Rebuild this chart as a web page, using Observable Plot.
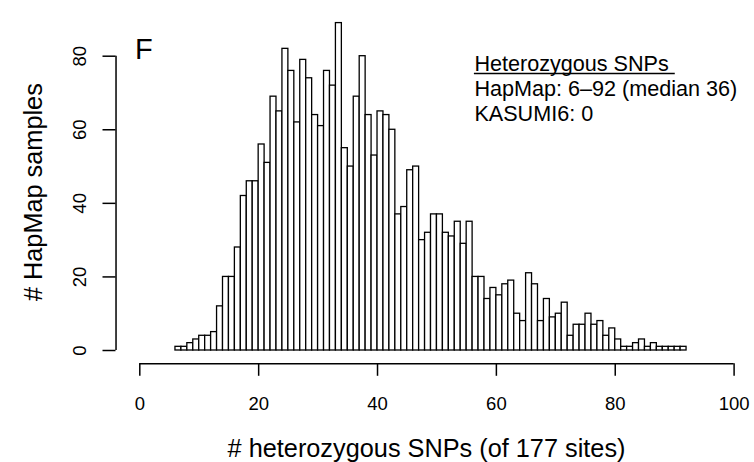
<!DOCTYPE html>
<html>
<head>
<meta charset="utf-8">
<script src="https://cdn.jsdelivr.net/npm/d3@7"></script>
<script src="https://cdn.jsdelivr.net/npm/@observablehq/plot@0.6"></script>
<style>
  html, body { margin: 0; padding: 0; background: #fff; }
  #chart { width: 754px; height: 462px; }
</style>
</head>
<body>
<div id="chart"></div>
<script>
// Histogram bins (left edge of each 1-wide bin) and their counts
const binStarts = [6,7,8,9,10,11,12,13,14,15,16,17,18,19,20,21,22,23,24,25,26,27,28,29,30,
  31,32,33,34,35,36,37,38,39,40,41,42,43,44,45,46,47,48,49,50,51,52,53,54,55,56,57,58,59,60,
  61,62,63,64,65,66,67,68,69,70,71,72,73,74,75,76,77,78,79,80,81,82,83,84,85,86,87,88,89,90,91];
const counts = [1,1,2,3,4,4,5,12,20,20,28,42,46,46,56,51,69,65,82,76,62,79,74,64,61,
  76,72,89,55,50,69,80,64,53,65,64,60,37,39,49,50,30,32,37,37,32,31,35,29,35,20,20,14,17,15,
  18,19,10,8,21,18,8,14,9,10,13,4,7,7,10,7,8,4,6,3,1,1,2,3,1,2,1,1,1,1,1];
const binWidth = 1;

const xTicks = [0, 20, 40, 60, 80, 100];
const yTicks = [0, 20, 40, 60, 80];

const xTitle = "# heterozygous SNPs (of 177 sites)";
const yTitle = "# HapMap samples";
const panelLetter = "F";
const legendTitle = "Heterozygous SNPs";
const legendLines = ["HapMap: 6\u201392 (median 36)", "KASUMI6: 0"];

const bars = binStarts.map((b, i) => ({x1: b, x2: b + binWidth, count: counts[i]}));

const font = "'Liberation Sans', Arial, Helvetica, sans-serif";
const W = 754, H = 462;

// R-style axis positions (usr limits a little outside the data range)
const xAxisAt = -4;     // y axis drawn at x = -4
const yAxisAt = -3.6;   // x axis drawn at y = -3.6

// legend placement in data coordinates
const legX = 56.3, legX2 = 90.1;
const legY = [76.1, 69.1, 62.5];
const legRule = 75.3;

const chart = Plot.plot({
  width: W,
  height: H,
  marginLeft: 115.5,
  marginRight: 17.5,
  marginTop: 20,
  marginBottom: 98.7,
  style: {fontFamily: font, color: "black", background: "white", overflow: "visible"},
  x: {domain: [0, 100], range: [139.3, 733.6]},
  y: {domain: [0, 80], range: [350, 55.7]},
  marks: [
    Plot.rect(bars, {x1: "x1", x2: "x2", y1: 0, y2: "count", fill: "white", stroke: "black", strokeWidth: 1.3}),
    // axis lines spanning first..last tick, like R
    Plot.ruleY([yAxisAt], {x1: xTicks[0], x2: xTicks[xTicks.length - 1], stroke: "black", strokeWidth: 1.5}),
    Plot.ruleX([xAxisAt], {y1: yTicks[0], y2: yTicks[yTicks.length - 1], stroke: "black", strokeWidth: 1.5}),
    Plot.axisX({ticks: xTicks, tickSize: 12.5, tickPadding: 20.5, fontSize: 18.5, label: null, strokeWidth: 1.5, tickFormat: d => String(d)}),
    Plot.axisY({ticks: yTicks, tickSize: 13, tickPadding: 16.8, tickRotate: -90, fontSize: 18.5, label: null, strokeWidth: 1.5, tickFormat: d => String(d)}),
    // axis titles
    Plot.text([xTitle], {frameAnchor: "bottom", dy: 93, lineAnchor: "bottom", textAnchor: "middle", fontSize: 25.3, fill: "black"}),
    Plot.text([yTitle], {frameAnchor: "left", dx: -73.8, rotate: -90, lineAnchor: "bottom", textAnchor: "middle", fontSize: 25.3, fill: "black"}),
    // panel letter
    Plot.text([panelLetter], {frameAnchor: "top-left", dx: 19, dy: 38, lineAnchor: "bottom", textAnchor: "start", fontSize: 29, fill: "black"}),
    // legend
    Plot.text([legendTitle, ...legendLines], {x: legX, y: (d, i) => legY[i], textAnchor: "start", lineAnchor: "bottom", fontSize: 21.6, fill: "black"}),
    Plot.ruleY([legRule], {x1: legX, x2: legX2, stroke: "black", strokeWidth: 1.3})
  ]
});

document.getElementById("chart").appendChild(chart);
</script>
</body>
</html>
